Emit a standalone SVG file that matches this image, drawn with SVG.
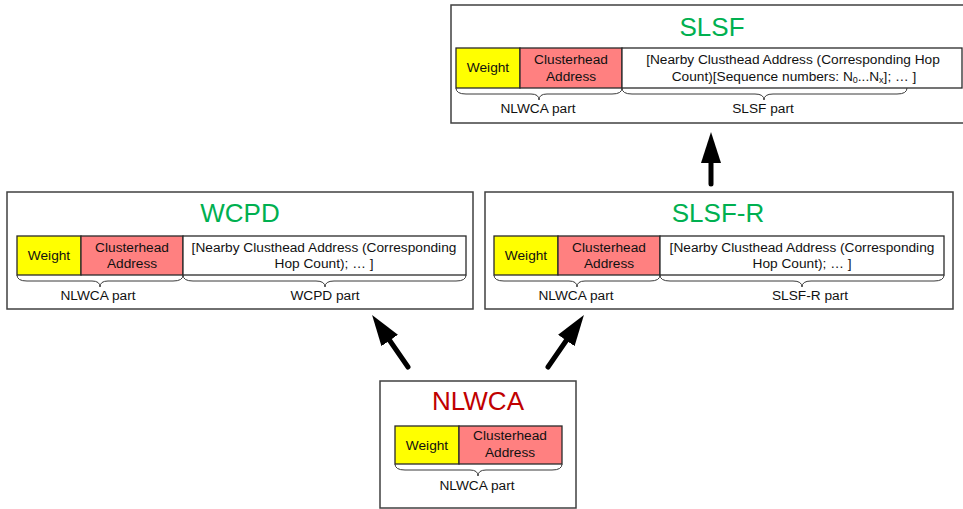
<svg xmlns="http://www.w3.org/2000/svg" width="963" height="509" viewBox="0 0 963 509">
  <defs>
    <style>
      .frame { fill: #ffffff; stroke: #404040; stroke-width: 1.5; }
      .cell { stroke: #2a2a2a; stroke-width: 1.3; }
      .wt { fill: #ffff00; }
      .ch { fill: #ff8080; }
      .fld { fill: #ffffff; }
      .brace { fill: none; stroke: #3a3a3a; stroke-width: 1; }
      .title { font-family: "Liberation Sans", Arial, sans-serif; font-size: 26px; text-anchor: middle; }
      .green { fill: #00b050; }
      .red { fill: #c00000; }
      .lbl { font-family: "Liberation Sans", Arial, sans-serif; font-size: 13.7px; fill: #111111; text-anchor: middle; }
      .arrow { stroke: #000000; stroke-width: 5; stroke-linecap: round; fill: none; }
    </style>
    <marker id="head" markerUnits="userSpaceOnUse" markerWidth="32" markerHeight="22" refX="0" refY="10" orient="auto" viewBox="0 0 32 22">
      <path d="M0,0 L31,10 L0,20 Z" fill="#000000"/>
    </marker>
  </defs>

  <!-- SLSF message -->
  <g id="slsf">
    <rect class="frame" x="451" y="5" width="520" height="118"/>
    <text class="title green" x="712" y="36">SLSF</text>
    <rect class="cell wt" x="456" y="48" width="64" height="40"/>
    <rect class="cell ch" x="520" y="48" width="102" height="40"/>
    <rect class="cell fld" x="622" y="48" width="340" height="40"/>
    <text class="lbl" x="488" y="72">Weight</text>
    <text class="lbl" x="571" y="64">Clusterhead</text>
    <text class="lbl" x="571" y="81">Address</text>
    <text class="lbl" x="793" y="64">[Nearby Clusthead Address (Corresponding Hop</text>
    <text class="lbl" x="794" y="81">Count)[Sequence numbers: N<tspan font-size="9" dy="2">0</tspan><tspan dy="-2">...N</tspan><tspan font-size="9" dy="2">x</tspan><tspan dy="-2">]; … ]</tspan></text>
    <path class="brace" d="M456,88 Q456,94 466,94 L531,94 Q539,94 539,100 Q539,94 547,94 L612,94 Q622,94 622,88"/>
    <path class="brace" d="M622,88 Q622,94 632,94 L755,94 Q764,94 764,100 Q764,94 773,94 L897,94 Q907,94 907,88"/>
    <text class="lbl" x="538" y="113">NLWCA part</text>
    <text class="lbl" x="763" y="113">SLSF part</text>
  </g>

  <!-- WCPD message -->
  <g id="wcpd">
    <rect class="frame" x="7" y="192" width="466" height="117"/>
    <text class="title green" x="240" y="222">WCPD</text>
    <rect class="cell wt" x="17" y="236" width="64" height="39"/>
    <rect class="cell ch" x="81" y="236" width="102" height="39"/>
    <rect class="cell fld" x="183" y="236" width="283" height="39"/>
    <text class="lbl" x="49" y="260">Weight</text>
    <text class="lbl" x="132" y="252">Clusterhead</text>
    <text class="lbl" x="132" y="268">Address</text>
    <text class="lbl" x="324" y="252">[Nearby Clusthead Address (Corresponding</text>
    <text class="lbl" x="324" y="268">Hop Count); … ]</text>
    <path class="brace" d="M17,275 Q17,281 27,281 L92,281 Q100,281 100,287 Q100,281 108,281 L173,281 Q183,281 183,275"/>
    <path class="brace" d="M183,275 Q183,281 193,281 L316,281 Q325,281 325,287 Q325,281 334,281 L456,281 Q466,281 466,275"/>
    <text class="lbl" x="98" y="300">NLWCA part</text>
    <text class="lbl" x="325" y="300">WCPD part</text>
  </g>

  <!-- SLSF-R message -->
  <g id="slsf-r">
    <rect class="frame" x="485" y="192" width="468" height="117"/>
    <text class="title green" x="718" y="222">SLSF-R</text>
    <rect class="cell wt" x="494" y="236" width="64" height="39"/>
    <rect class="cell ch" x="558" y="236" width="102" height="39"/>
    <rect class="cell fld" x="660" y="236" width="284" height="39"/>
    <text class="lbl" x="526" y="260">Weight</text>
    <text class="lbl" x="609" y="252">Clusterhead</text>
    <text class="lbl" x="609" y="268">Address</text>
    <text class="lbl" x="802" y="252">[Nearby Clusthead Address (Corresponding</text>
    <text class="lbl" x="802" y="268">Hop Count); … ]</text>
    <path class="brace" d="M494,275 Q494,281 504,281 L569,281 Q577,281 577,287 Q577,281 585,281 L650,281 Q660,281 660,275"/>
    <path class="brace" d="M660,275 Q660,281 670,281 L793,281 Q802,281 802,287 Q802,281 811,281 L934,281 Q944,281 944,275"/>
    <text class="lbl" x="576" y="300">NLWCA part</text>
    <text class="lbl" x="810" y="300">SLSF-R part</text>
  </g>

  <!-- NLWCA message -->
  <g id="nlwca">
    <rect class="frame" x="380" y="381" width="196" height="127"/>
    <text class="title red" x="478" y="410">NLWCA</text>
    <rect class="cell wt" x="395" y="426" width="64" height="38"/>
    <rect class="cell ch" x="459" y="426" width="103" height="38"/>
    <text class="lbl" x="427" y="450">Weight</text>
    <text class="lbl" x="510" y="440">Clusterhead</text>
    <text class="lbl" x="510" y="457">Address</text>
    <path class="brace" d="M395,464 Q395,470 405,470 L470,470 Q478,470 478,476 Q478,470 486,470 L552,470 Q562,470 562,464"/>
    <text class="lbl" x="477" y="490">NLWCA part</text>
  </g>

  <!-- derivation arrows -->
  <g id="connectors">
    <line class="arrow" x1="408" y1="367" x2="389.7" y2="340.5" marker-end="url(#head)"/>
    <line class="arrow" x1="548" y1="367" x2="566.3" y2="340.5" marker-end="url(#head)"/>
    <line class="arrow" x1="711" y1="184" x2="711" y2="163" marker-end="url(#head)"/>
  </g>
</svg>
